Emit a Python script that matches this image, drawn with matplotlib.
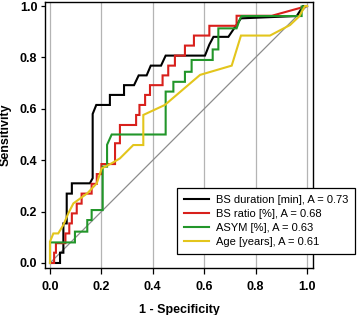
import matplotlib
matplotlib.use("Agg")
import matplotlib.pyplot as plt

plt.rcParams['font.family'] = ['Liberation Sans', 'DejaVu Sans']

# --- ROC curves (1 - specificity, sensitivity) ---
dur_x = [0, 0.039, 0.039, 0.052, 0.052, 0.065, 0.065, 0.085, 0.085, 0.155, 0.166, 0.166,
         0.18, 0.233, 0.233, 0.288, 0.288, 0.327, 0.345, 0.376, 0.392, 0.432, 0.45,
         0.603, 0.62, 0.636, 0.694, 0.743, 0.96, 0.985, 1.0]
dur_y = [0, 0, 0.04, 0.04, 0.154, 0.154, 0.27, 0.27, 0.31, 0.31, 0.33, 0.58,
         0.615, 0.615, 0.654, 0.654, 0.692, 0.692, 0.73, 0.73, 0.768, 0.768, 0.807,
         0.807, 0.85, 0.88, 0.88, 0.952, 0.961, 1.0, 1.0]

ratio_x = [0, 0.016, 0.016, 0.023, 0.023, 0.06, 0.06, 0.075, 0.075, 0.085, 0.085, 0.104,
           0.104, 0.123, 0.123, 0.145, 0.162, 0.162, 0.182, 0.182, 0.2, 0.2, 0.253,
           0.253, 0.272, 0.272, 0.335, 0.335, 0.348, 0.348, 0.37, 0.37, 0.389, 0.389,
           0.438, 0.438, 0.46, 0.46, 0.486, 0.486, 0.525, 0.525, 0.56, 0.56, 0.62,
           0.62, 0.726, 0.726, 0.863, 1.0]
ratio_y = [0, 0, 0.04, 0.04, 0.077, 0.077, 0.115, 0.115, 0.154, 0.154, 0.193, 0.193,
           0.231, 0.231, 0.27, 0.27, 0.27, 0.308, 0.308, 0.346, 0.346, 0.385, 0.385,
           0.466, 0.466, 0.537, 0.537, 0.576, 0.576, 0.615, 0.615, 0.654, 0.654, 0.692,
           0.692, 0.73, 0.73, 0.768, 0.768, 0.807, 0.807, 0.846, 0.846, 0.885, 0.885,
           0.923, 0.923, 0.962, 0.962, 1.0]

asym_x = [0, 0, 0.097, 0.097, 0.145, 0.145, 0.162, 0.162, 0.205, 0.205, 0.222, 0.222,
          0.24, 0.45, 0.45, 0.48, 0.48, 0.525, 0.525, 0.551, 0.551, 0.633, 0.633,
          0.655, 0.655, 0.726, 0.74, 0.745, 0.979, 0.979, 1.0]
asym_y = [0, 0.08, 0.08, 0.122, 0.122, 0.167, 0.167, 0.206, 0.206, 0.375, 0.375, 0.46,
          0.5, 0.5, 0.667, 0.667, 0.705, 0.705, 0.744, 0.744, 0.79, 0.79, 0.831,
          0.831, 0.913, 0.913, 0.952, 0.961, 0.961, 0.998, 1.0]

age_x = [0, 0, 0.013, 0.032, 0.052, 0.071, 0.091, 0.145, 0.182, 0.201, 0.24, 0.272,
         0.298, 0.324, 0.363, 0.363, 0.447, 0.584, 0.707, 0.743, 0.856, 0.934, 0.97,
         0.992, 1.0]
age_y = [0, 0.083, 0.115, 0.115, 0.148, 0.193, 0.232, 0.271, 0.31, 0.368, 0.388, 0.407,
         0.433, 0.459, 0.459, 0.576, 0.615, 0.732, 0.768, 0.885, 0.885, 0.926, 0.96,
         1.0, 1.0]

labels = ["BS duration [min], A = 0.73", "BS ratio [%], A = 0.68",
          "ASYM [%], A = 0.63", "Age [years], A = 0.61"]
colors = ["#000000", "#d8201c", "#22962a", "#e3c51c"]
ticks = [0.0, 0.2, 0.4, 0.6, 0.8, 1.0]

fig = plt.figure(figsize=(3.58, 3.15), dpi=100)
ax = fig.add_axes([45 / 358, 47 / 315, 268 / 358, 266 / 315])

for t in ticks:
    ax.axvline(t, color="#b4b4b4", lw=0.9, zorder=0)
ax.plot([0, 1], [0, 1], color="#8c8c8c", lw=0.9, zorder=1)

series = [(dur_x, dur_y), (ratio_x, ratio_y), (asym_x, asym_y), (age_x, age_y)]
handles = []
for (xs, ys), c, lab in zip(series, colors, labels):
    h, = ax.plot(xs, ys, color=c, lw=1.5, label=lab, zorder=2,
                 solid_joinstyle="miter")
    handles.append(h)

ax.set_xlim(-0.0195, 1.0233)
ax.set_ylim(-0.0195, 1.0156)
ax.set_xticks(ticks)
ax.set_yticks(ticks)
ax.set_xticklabels([f"{t:.1f}" for t in ticks], fontsize=9, fontweight="bold")
ax.set_yticklabels([f"{t:.1f}" for t in ticks], fontsize=9, fontweight="bold")
ax.tick_params(axis="x", length=4, width=0.9, pad=5)
ax.tick_params(axis="y", length=3, width=0.9, pad=2.5)
for s in ax.spines.values():
    s.set_linewidth(1.0)

ax.set_xlabel("1 - Specificity", fontsize=9, fontweight="bold", labelpad=8)
ax.set_ylabel("Sensitivity", fontsize=9, fontweight="bold", labelpad=6)

leg = ax.legend(handles=handles, loc="lower right", bbox_to_anchor=(355 / 358, 61 / 315),
                bbox_transform=fig.transFigure, fontsize=8, frameon=True, fancybox=False,
                edgecolor="black", framealpha=1, borderpad=0.6, labelspacing=0.38,
                handlelength=2.3, handletextpad=0.6, borderaxespad=0)
leg.get_frame().set_linewidth(0.9)

fig.savefig("out.png", dpi=100)
